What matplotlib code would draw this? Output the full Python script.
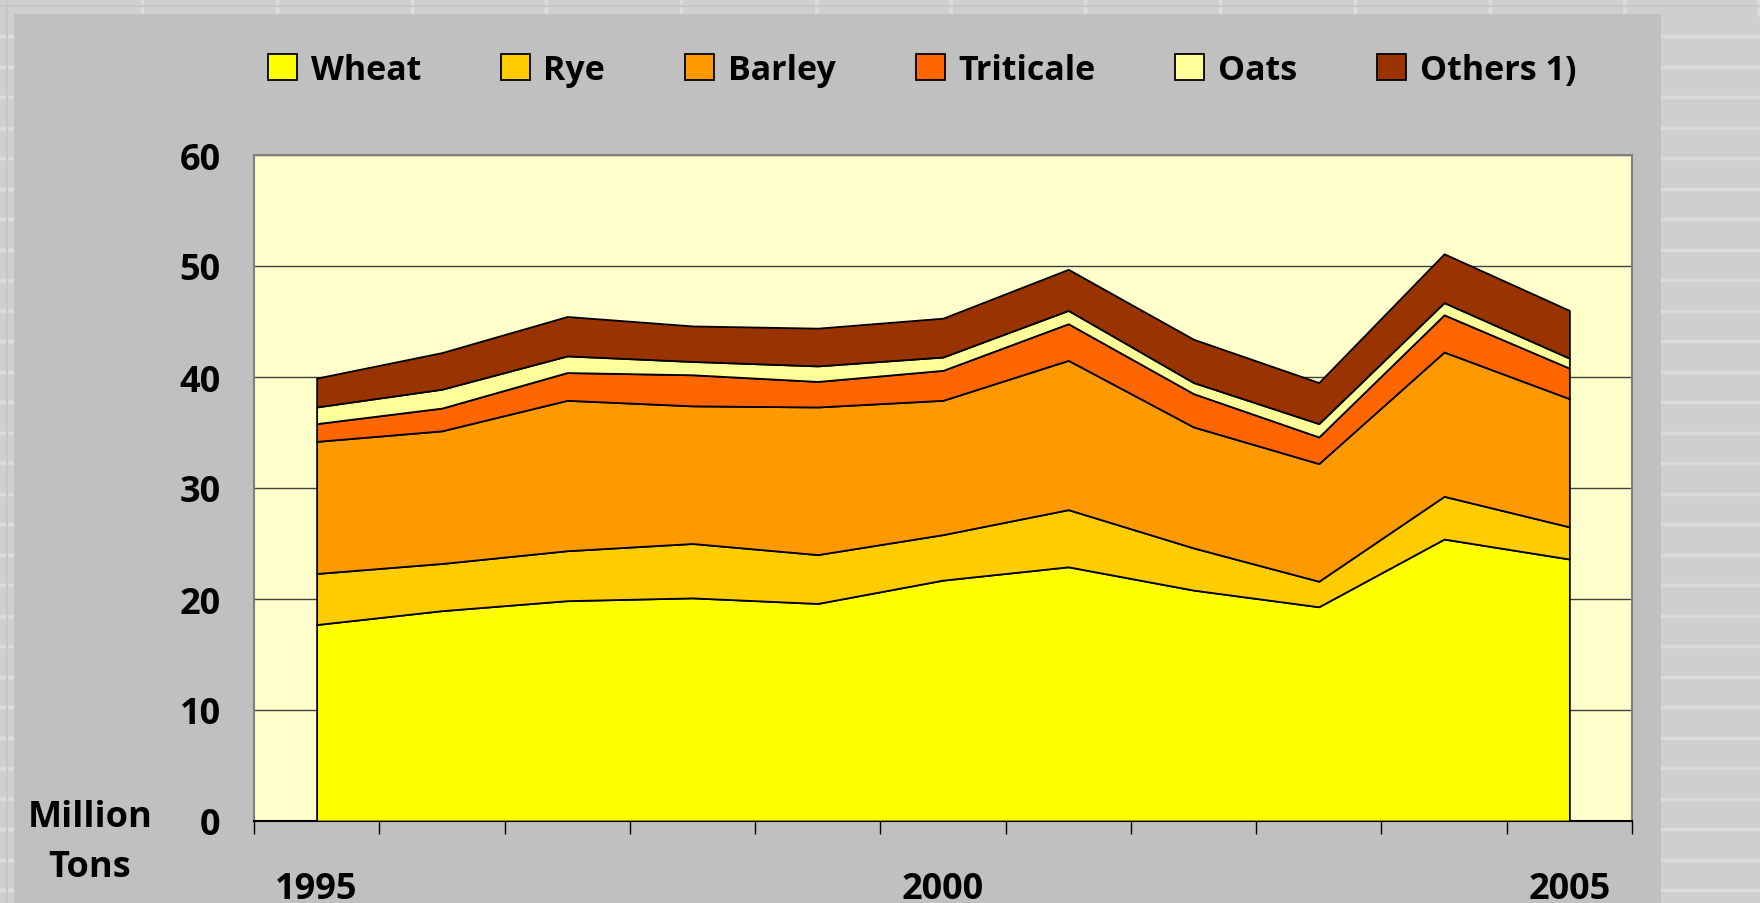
import numpy as np
import matplotlib
matplotlib.use("Agg")
import matplotlib.pyplot as plt
from matplotlib.patches import Rectangle, Patch
from matplotlib.lines import Line2D

plt.rcParams['font.family'] = ['Open Sans', 'DejaVu Sans']
plt.rcParams['font.weight'] = 'bold'

# ---- data (million tons) ----
years = [1995, 1996, 1997, 1998, 1999, 2000, 2001, 2002, 2003, 2004, 2005]
series_names = ["Wheat", "Rye", "Barley", "Triticale", "Oats", "Others 1)"]
wheat = [17.7, 18.95, 19.85, 20.1, 19.6, 21.7, 22.9, 20.8, 19.3, 25.4, 23.6]
rye = [4.6, 4.25, 4.5, 4.9, 4.4, 4.1, 5.15, 3.8, 2.3, 3.85, 2.9]
barley = [11.9, 11.95, 13.55, 12.4, 13.3, 12.1, 13.45, 10.9, 10.6, 13.0, 11.55]
triticale = [1.6, 2.05, 2.5, 2.8, 2.3, 2.7, 3.3, 3.0, 2.4, 3.35, 2.75]
oats = [1.5, 1.7, 1.5, 1.2, 1.4, 1.2, 1.2, 1.0, 1.2, 1.1, 0.9]
others = [2.6, 3.3, 3.55, 3.2, 3.4, 3.5, 3.7, 3.9, 3.7, 4.4, 4.3]
colors = ["#FFFF00", "#FFCC00", "#FF9900", "#FF6600", "#FFFF99", "#993300"]
labeled_years = ["1995", "2000", "2005"]
yticks = [0, 10, 20, 30, 40, 50, 60]

W, H = 1760, 904
fig = plt.figure(figsize=(W / 100, H / 100), dpi=100, facecolor="#CFCFCF")

# spreadsheet cell lines behind the chart
cell_col = "#DCDCDC"
for xc in np.arange(142, W, 134.75):
    fig.add_artist(Line2D([xc / W, xc / W], [1, 1 - 15 / H], transform=fig.transFigure,
                          color=cell_col, lw=2.5, zorder=-3))
fig.add_artist(Line2D([0, 1], [1 - 7 / H, 1 - 7 / H], transform=fig.transFigure,
                      color="#C6C6C6", lw=1.5, zorder=-3))
for yr in np.arange(37, H, 30.5):
    fig.add_artist(Line2D([0, 14 / W], [1 - yr / H, 1 - yr / H], transform=fig.transFigure,
                          color=cell_col, lw=2.5, zorder=-3))
    fig.add_artist(Line2D([1661 / W, 1], [1 - yr / H, 1 - yr / H], transform=fig.transFigure,
                          color=cell_col, lw=2.5, zorder=-3))
fig.add_artist(Line2D([7 / W, 7 / W], [0, 1], transform=fig.transFigure,
                      color="#C6C6C6", lw=1.5, zorder=-3))

# chart area
fig.add_artist(Rectangle((14 / W, 0), (1661 - 14) / W, 1 - 15 / H, transform=fig.transFigure,
                         facecolor="#C0C0C0", edgecolor="none", zorder=-2))

ax = fig.add_axes([254 / W, 1 - 822 / H, (1632 - 254) / W, (822 - 156) / H])
ax.set_zorder(1)
ax.set_facecolor("#FFFFCC")

x = np.arange(len(years))
ax.stackplot(x, wheat, rye, barley, triticale, oats, others, colors=colors,
             edgecolor="black", linewidth=1.3, zorder=3)

ax.set_xlim(-0.5, len(years) - 0.5)
ax.set_ylim(0, 60)
ax.set_yticks(yticks)
ax.set_yticklabels([str(v) for v in yticks])
ax.yaxis.grid(True, color="#404040", lw=1.0, zorder=1)
ax.set_axisbelow(True)
ax.tick_params(axis="y", length=0, pad=24, labelsize=26)

ax.set_xticks([years.index(int(y)) for y in labeled_years])
ax.set_xticklabels(labeled_years)
ax.set_xticks(np.arange(-0.5, len(years), 1.0), minor=True)
ax.tick_params(axis="x", which="major", length=0, pad=36, labelsize=26)
ax.tick_params(axis="x", which="minor", length=9.5, width=1.0, color="black", direction="out")

for s in ["left", "top", "right"]:
    ax.spines[s].set_color("#808080")
    ax.spines[s].set_linewidth(1.5)
ax.spines["bottom"].set_color("black")
ax.spines["bottom"].set_linewidth(1.5)
for lab in ax.get_xticklabels() + ax.get_yticklabels():
    lab.set_fontweight("bold")

handles = [Patch(facecolor=c, edgecolor="black", linewidth=1.3) for c in colors]
fig.legend(handles, series_names, loc="center", bbox_to_anchor=(922 / W, 1 - 71 / H),
           ncol=6, frameon=False, handlelength=0.85, handleheight=0.8,
           handletextpad=0.4, columnspacing=2.35, prop={"weight": "bold", "size": 24.5})

fig.text(90 / W, 1 - 843 / H, "Million\nTons", ha="center", va="center",
         fontsize=26, fontweight="bold", linespacing=1.5)

fig.savefig("out.png", dpi=100, facecolor=fig.get_facecolor())
